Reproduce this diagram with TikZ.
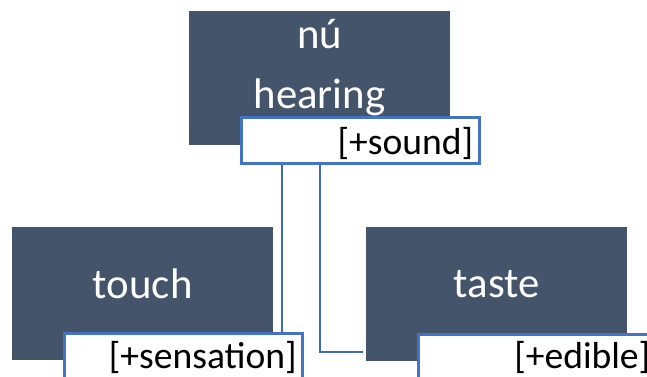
\documentclass[tikz,border=0pt]{standalone}
\usepackage{fontspec}
\setmainfont{Carlito}
\definecolor{darkbox}{HTML}{44546A}
\definecolor{lblborder}{HTML}{4472C4}
\definecolor{conn}{HTML}{4068B4}
\tikzset{
  darkbox/.style={fill=darkbox, draw=none, inner sep=0pt, minimum width=261pt,
    text=white, font=\fontsize{42.8}{50}\selectfont},
  lblbox/.style={fill=white, draw=lblborder, line width=2.5pt, inner sep=0pt,
    minimum width=238pt, minimum height=46pt, text=black,
    font=\fontsize{37.6}{44}\selectfont},
  connline/.style={draw=conn, line width=2.5pt},
}
\begin{document}
\begin{tikzpicture}[x=1pt, y=-1pt]
\useasboundingbox (0,0) rectangle (647,376);
\clip (0,0) rectangle (647,376);
% dark boxes
\node[darkbox, minimum height=134pt, anchor=north west] (hear) at (189,11) {};
\node[darkbox, anchor=base] (nu) at (319.5,48) {nú};
\node[darkbox, fill=none, anchor=base] (hearing) at (319.5,108) {hearing};
\node[darkbox, minimum height=133pt, text height=71pt, text depth=62pt, anchor=north west] (touch) at (12,227) {touch};
\node[darkbox, minimum height=134pt, text height=70pt, text depth=64pt, anchor=north west] (taste) at (366,227) {taste};
% connector anchors
\coordinate (c1) at (282,0);
\coordinate (c2) at (320,0);
\coordinate (c3) at (363,352);
% label boxes
\node[lblbox, text height=37pt, text depth=9pt, anchor=north west] (snd) at (240,116) {\makebox[226pt][r]{[+sound]}};
\node[lblbox, text height=35pt, text depth=11pt, anchor=north west] (sen) at (63,332) {\makebox[227pt][r]{[+sensation]}};
\node[lblbox, text height=34pt, text depth=12pt, anchor=north west] (edi) at (417,333) {\makebox[226pt][r]{[+edible]}};
% connectors
\draw[connline] (c1 |- snd.south) -- (c1 |- sen.north);
\draw[connline] (c2 |- snd.south) |- (c3);
\end{tikzpicture}
\end{document}
